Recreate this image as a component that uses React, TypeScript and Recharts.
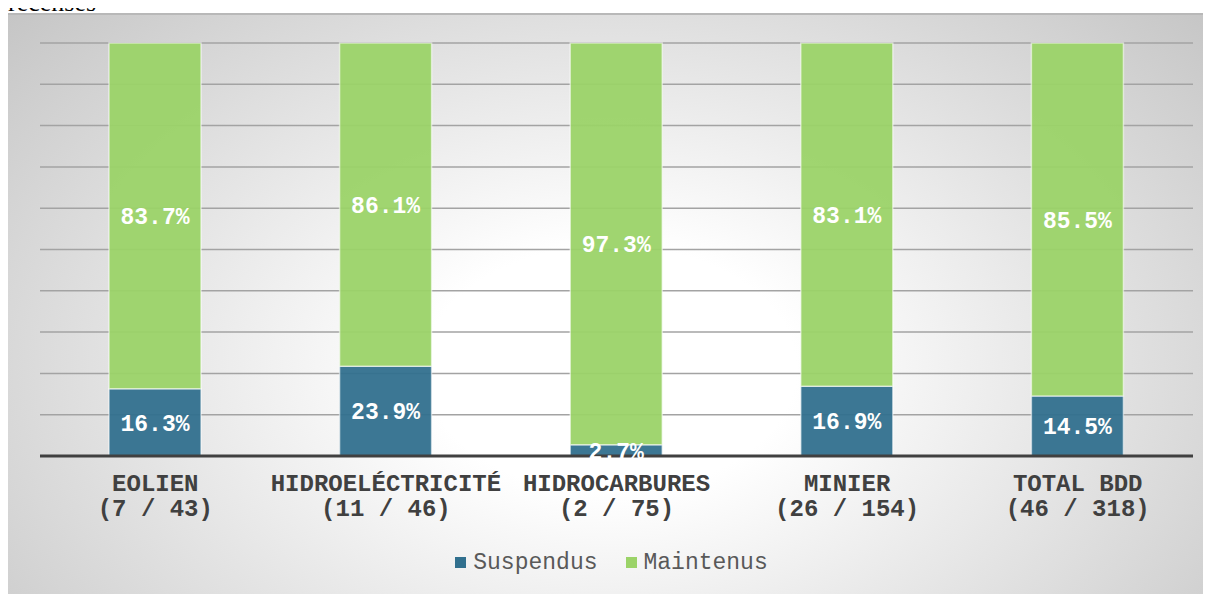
import { Bar, BarChart, CartesianGrid, LabelList, Legend, XAxis, YAxis } from "recharts";

const categories = ["EOLIEN", "HIDROELÉCTRICITÉ", "HIDROCARBURES", "MINIER", "TOTAL BDD"];
const suspendusCount = [7, 11, 2, 26, 46];
const totalCount = [43, 46, 75, 154, 318];
const suspendus = [16.3, 23.9, 2.7, 16.9, 14.5];
const maintenus = [83.7, 86.1, 97.3, 83.1, 85.5];
const yTicks = [0, 0.1, 0.2, 0.3, 0.4, 0.5, 0.6, 0.7, 0.8, 0.9, 1];
const seriesOrder = ["Suspendus", "Maintenus"];

const data = categories.map((name, i) => ({
  name,
  counts: `(${suspendusCount[i]} / ${totalCount[i]})`,
  Suspendus: suspendus[i],
  Maintenus: maintenus[i],
}));

const mono = '"Courier New", "Liberation Mono", monospace';

function CategoryTick(props: any) {
  const { x, y, payload, index } = props;
  return (
    <text x={x} y={y} textAnchor="middle" fill="#404040" fontFamily={mono} fontWeight="bold" fontSize={24}>
      <tspan x={x} dy={27}>{payload.value}</tspan>
      <tspan x={x} dy={25}>{data[index]?.counts}</tspan>
    </text>
  );
}

export default function App() {
  return (
    <div style={{ position: "relative", width: 1205, height: 600 }}>
      <style>{`body{overflow:hidden}`}</style>
      <div style={{ position: "absolute", left: 0, top: -20, fontSize: 26, fontFamily: '"Liberation Serif", serif', lineHeight: "30px" }}>
        recensés
      </div>
      <div
        style={{
          position: "absolute",
          left: 0,
          top: 5,
          width: 1205,
          height: 590,
          borderTop: "2px solid #b8b8b8",
          background: "radial-gradient(ellipse 70% 95% at 50% 60%, #ffffff 0%, #ffffff 22%, #c2c2c2 100%)",
        }}
      >
        <BarChart
          width={1205}
          height={588}
          data={data}
          stackOffset="expand"
          barSize={92}
          margin={{ top: 28, right: 20, left: 32, bottom: 27 }}
        >
          <CartesianGrid vertical={false} stroke="#a3a3a3" strokeWidth={1.5} />
          <YAxis hide domain={[0, 1]} ticks={yTicks} />
          <XAxis
            dataKey="name"
            axisLine={{ stroke: "#404040", strokeWidth: 3 }}
            tickLine={false}
            height={94}
            interval={0}
            tick={<CategoryTick />}
          />
          <Legend
            iconType="square"
            iconSize={11}
            itemSorter={(item: any) => seriesOrder.indexOf(item.dataKey)}
            wrapperStyle={{ fontFamily: mono, fontSize: 23 }}
            formatter={(value: string) => (
              <span style={{ color: "#595959", paddingLeft: 3, paddingRight: value === "Suspendus" ? 18 : 0 }}>{value}</span>
            )}
          />
          <Bar dataKey="Suspendus" stackId="a" fill="#31708e" fillOpacity={0.95} stroke="rgba(255,255,255,0.55)" strokeWidth={1.5} isAnimationActive={false}>
            <LabelList dataKey="Suspendus" position="center" fill="#ffffff" fontFamily={mono} fontWeight="bold" fontSize={23} formatter={(v: any) => `${v}%`} />
          </Bar>
          <Bar dataKey="Maintenus" stackId="a" fill="#9bd368" fillOpacity={0.95} stroke="rgba(255,255,255,0.55)" strokeWidth={1.5} isAnimationActive={false}>
            <LabelList dataKey="Maintenus" position="center" fill="#ffffff" fontFamily={mono} fontWeight="bold" fontSize={23} formatter={(v: any) => `${v}%`} />
          </Bar>
        </BarChart>
      </div>
    </div>
  );
}
